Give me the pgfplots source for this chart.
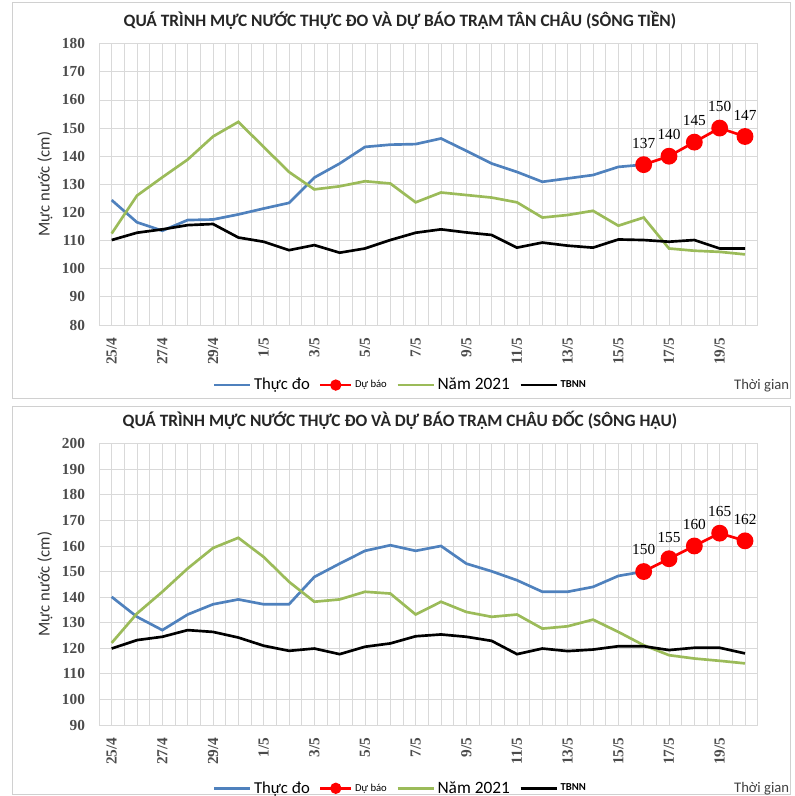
\documentclass[border=0pt]{standalone}
\usepackage{fontspec}
\setmainfont{Carlito}
\newfontfamily\tickserif{Liberation Serif}
\usepackage{pgfplots}
\pgfplotsset{compat=1.18}
\usepackage{pgfplotstable}
\definecolor{cblue}{HTML}{4F81BD}
\definecolor{cgreen}{HTML}{9BBB59}
\definecolor{cgrid}{HTML}{D9D9D9}
\definecolor{cframe}{HTML}{D0D0D0}
\newcommand{\T}{\tickserif\bfseries\fontsize{11.5}{12}\selectfont}

\pgfplotstableread{
i blue green black
0 124.4 112.5 110.2
1 116.5 126.0 112.8
2 113.5 132.5 114.0
3 117.3 138.8 115.5
4 117.5 147.0 115.9
5 119.3 152.2 111.1
6 121.4 143.3 109.6
7 123.4 134.4 106.6
8 132.4 128.2 108.4
9 137.4 129.3 105.7
10 143.3 131.1 107.2
11 144.1 130.3 110.2
12 144.3 123.6 112.8
13 146.3 127.1 114.0
14 141.9 126.2 112.9
15 137.4 125.3 112.0
16 134.4 123.6 107.5
17 130.9 118.2 109.3
18 132.1 119.1 108.2
19 133.3 120.6 107.5
20 136.2 115.3 110.4
21 137.0 118.2 110.2
22 nan 107.2 109.6
23 nan 106.4 110.2
24 nan 106.0 107.2
25 nan 105.1 107.2
}\tanchau
\pgfplotstableread{
i red
21 137
22 140
23 145
24 150
25 147
}\tanchaured
\pgfplotstableread{
i blue green black
0 140.1 122.1 119.9
1 132.3 133.6 123.2
2 127.1 142.1 124.5
3 133.2 151.2 127.1
4 137.2 159.2 126.4
5 139.1 163.2 124.2
6 137.2 155.7 121.0
7 137.2 146.0 119.0
8 147.9 138.2 119.9
9 153.1 139.1 117.7
10 158.1 142.1 120.6
11 160.3 141.4 121.9
12 158.1 133.2 124.7
13 160.0 138.2 125.4
14 153.1 134.2 124.5
15 150.1 132.3 122.9
16 146.6 133.2 117.7
17 142.1 127.7 119.9
18 142.1 128.6 118.9
19 144.0 131.2 119.5
20 148.3 126.4 120.8
21 150.0 121.2 120.8
22 nan 117.3 119.3
23 nan 116.0 120.2
24 nan 115.1 120.2
25 nan 114.1 118.0
}\chaudoc
\pgfplotstableread{
i red
21 150
22 155
23 160
24 165
25 162
}\chaudocred

\pgfplotsset{
  mystyle/.style={
    scale only axis, width=494pt, height=211pt,
    xmin=-0.5, xmax=25.5,
    xtick={0,2,...,24},
    xticklabels={{\T 25/4},{\T 27/4},{\T 29/4},{\T 1/5},{\T 3/5},{\T 5/5},{\T 7/5},{\T 9/5},{\T 11/5},{\T 13/5},{\T 15/5},{\T 17/5},{\T 19/5}},
    minor xtick={-0.5,0,...,25.5},
    xmajorgrids, xminorgrids, ymajorgrids,
    major grid style={cgrid, line width=0.6pt},
    minor grid style={cgrid, line width=0.6pt},
    major tick length=0pt, minor tick length=0pt,
    axis line style={cgrid, line width=0.6pt},
    tick label style={font=\T, text=black!70},
    xticklabel style={rotate=90, anchor=east, xshift=-6pt},
    yticklabel style={xshift=-7pt},
    ylabel={Mực nước (cm)},
    ylabel style={at={(axis description cs:-0.082,0.5)}, anchor=center, font=\fontsize{12.5}{14}\selectfont, text=black!80},
    title style={at={(axis description cs:0.457,1.053)}, anchor=center, font=\bfseries\fontsize{13}{15}\selectfont, text=black!85},
    legend columns=-1,
    legend style={draw=none, fill=none, at={(axis description cs:0.458,-0.2135)}, anchor=center,
      /tikz/every even column/.append style={column sep=5pt},
      /tikz/every odd column/.append style={column sep=0pt}},
    legend image code/.code={\draw[##1, mark=none] (0pt,0pt) -- (27pt,0pt);},
    clip=false,
  },
  sblue/.style={cblue, line width=2pt, no markers},
  sgreen/.style={cgreen, line width=2pt, no markers},
  sblack/.style={black, line width=2pt, no markers},
  sred/.style={red, line width=2pt, mark=*, mark size=5.3pt, mark options={fill=red, draw=red},
    nodes near coords, point meta=explicit symbolic,
    every node near coord/.append style={font=\tickserif\fontsize{11.5}{12}\selectfont, black, yshift=8pt},
    legend image code/.code={\draw[red, line width=2pt] (0pt,0pt) -- (23pt,0pt); \fill[red] (11.5pt,0pt) circle (3.2pt);}},
}

\begin{document}
\begin{tikzpicture}
\useasboundingbox (0,0) rectangle (595.5pt,-597pt);
\draw[cframe, line width=0.6pt] (9pt,-1.5pt) rectangle (593pt,-299pt);
\draw[cframe, line width=0.6pt] (9pt,-304.5pt) rectangle (593pt,-596pt);

\begin{axis}[mystyle, at={(74.25pt,-243.75pt)}, anchor=south west,
  ymin=80, ymax=180, ytick={80,90,...,180},
  yticklabels={{\T 80},{\T 90},{\T 100},{\T 110},{\T 120},{\T 130},{\T 140},{\T 150},{\T 160},{\T 170},{\T 180}},
  title={QUÁ TRÌNH MỰC NƯỚC THỰC ĐO VÀ DỰ BÁO TRẠM TÂN CHÂU (SÔNG TIỀN)}]
\addplot[sblue] table[x=i, y=blue] {\tanchau};
\addlegendentry{\fontsize{12.5}{13}\selectfont Thực đo}
\addplot[sred] table[x=i, y=red, meta=red] {\tanchaured};
\addlegendentry{\fontsize{8}{9}\selectfont Dự báo}
\addplot[sgreen] table[x=i, y=green] {\tanchau};
\addlegendentry{\fontsize{13}{14}\selectfont Năm 2021}
\addplot[sblack] table[x=i, y=black] {\tanchau};
\addlegendentry{\bfseries\fontsize{8}{9}\selectfont TBNN}
\node[font=\fontsize{11}{12}\selectfont, text=black!75] at (axis description cs:1.006,-0.217) {Thời gian};
\end{axis}

\begin{axis}[mystyle, at={(74.25pt,-543.75pt)}, anchor=south west,
  ymin=90, ymax=200, ytick={90,100,...,200},
  yticklabels={{\T 90},{\T 100},{\T 110},{\T 120},{\T 130},{\T 140},{\T 150},{\T 160},{\T 170},{\T 180},{\T 190},{\T 200}},
  legend style={at={(axis description cs:0.458,-0.225)}},
  title={QUÁ TRÌNH MỰC NƯỚC THỰC ĐO VÀ DỰ BÁO TRẠM CHÂU ĐỐC (SÔNG HẬU)}]
\addplot[sblue] table[x=i, y=blue] {\chaudoc};
\addlegendentry{\fontsize{12.5}{13}\selectfont Thực đo}
\addplot[sred] table[x=i, y=red, meta=red] {\chaudocred};
\addlegendentry{\fontsize{8}{9}\selectfont Dự báo}
\addplot[sgreen] table[x=i, y=green] {\chaudoc};
\addlegendentry{\fontsize{13}{14}\selectfont Năm 2021}
\addplot[sblack] table[x=i, y=black] {\chaudoc};
\addlegendentry{\bfseries\fontsize{8}{9}\selectfont TBNN}
\node[font=\fontsize{11}{12}\selectfont, text=black!75] at (axis description cs:1.006,-0.227) {Thời gian};
\end{axis}
\end{tikzpicture}
\end{document}
